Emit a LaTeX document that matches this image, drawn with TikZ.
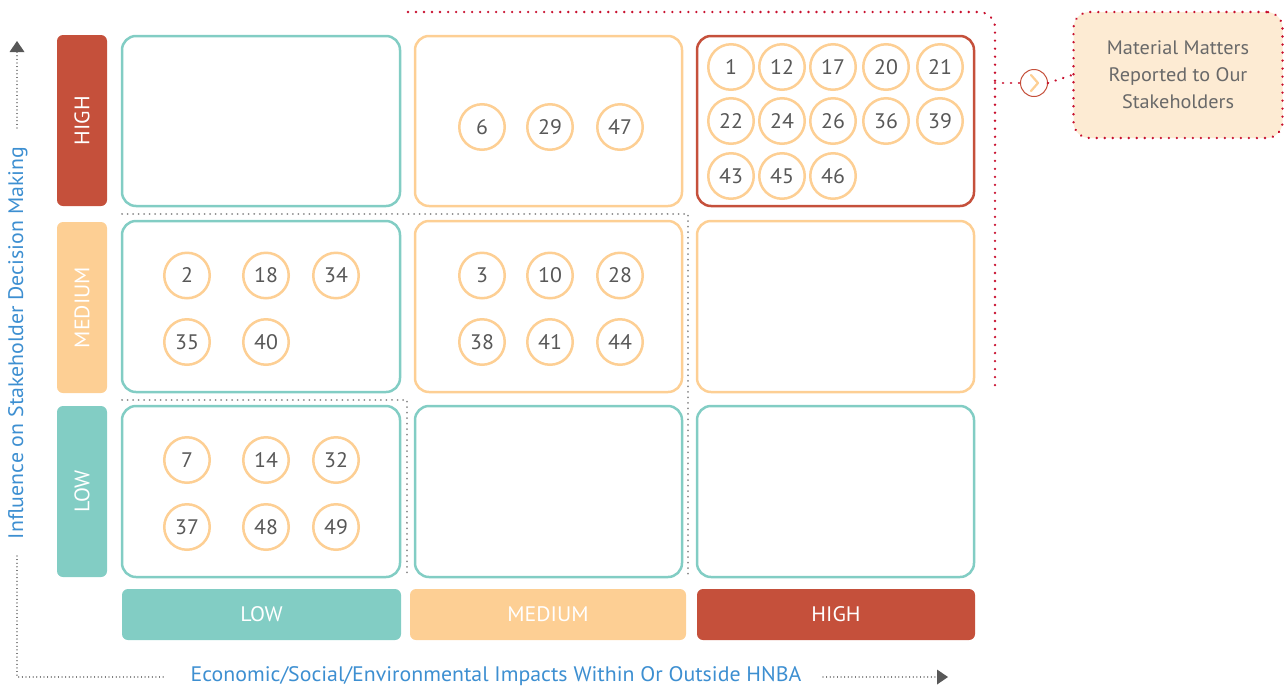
\documentclass[tikz,border=0pt]{standalone}
\usepackage{fontspec}
\setmainfont[FakeStretch=1.04]{PT Sans}
\usetikzlibrary{arrows.meta,calc}
\definecolor{tealC}{HTML}{82CDC4}
\definecolor{orangeC}{HTML}{FDCF94}
\definecolor{redC}{HTML}{C5503B}
\definecolor{numgray}{HTML}{585858}
\definecolor{blueT}{HTML}{3D8FD1}
\definecolor{sepgray}{HTML}{8A8A8A}
\definecolor{dotred}{HTML}{C8102E}
\definecolor{mmfill}{HTML}{FDEBD3}
\begin{document}
\begin{tikzpicture}[x=1pt,y=-1pt,
  cell/.style={draw, line width=2.5pt, rounded corners=14pt, inner sep=0pt},
  mm/.style={circle, draw=orangeC, line width=2.5pt, minimum size=45.5pt, inner sep=0pt, fill=white,
    font=\fontsize{21}{21}\selectfont, text=numgray},
  lbl/.style={rounded corners=6pt, inner sep=0pt, text=white, font=\fontsize{21}{21}\selectfont},
  vlbl/.style={rotate=90, text=white, font=\fontsize{21}{21}\selectfont, inner sep=0pt},
  axislbl/.style={text=blueT, font=\fontsize{21}{21}\selectfont, inner sep=0pt},
  axisline/.style={sepgray!70!black, line width=1.2pt, dash pattern=on 0.01pt off 3.6pt, line cap=round},
  sepline/.style={sepgray, line width=2pt, dash pattern=on 0.01pt off 5.5pt, line cap=round},
  reddot/.style={dotred, line width=2.6pt, dash pattern=on 0.01pt off 8pt, line cap=round},
  tip/.style={-{Triangle[length=11pt,width=15pt,line width=0pt,color=numgray]}}
]
\useasboundingbox (0,0) rectangle (1284,686);

% grid cells
\node[cell, draw=tealC, minimum width=278pt, minimum height=170pt] (c11) at (261,121) {};
\node[cell, draw=orangeC, minimum width=267pt, minimum height=170pt] (c12) at (548.5,121) {};
\node[cell, draw=redC, minimum width=277pt, minimum height=170pt] (c13) at (835.5,121) {};
\node[cell, draw=tealC, minimum width=278pt, minimum height=171pt] (c21) at (261,306.5) {};
\node[cell, draw=orangeC, minimum width=267pt, minimum height=171pt] (c22) at (548.5,306.5) {};
\node[cell, draw=orangeC, minimum width=277pt, minimum height=171pt] (c23) at (835.5,306.5) {};
\node[cell, draw=tealC, minimum width=278pt, minimum height=171pt] (c31) at (261,491.5) {};
\node[cell, draw=tealC, minimum width=267pt, minimum height=171pt] (c32) at (548.5,491.5) {};
\node[cell, draw=tealC, minimum width=277pt, minimum height=171pt] (c33) at (835.5,491.5) {};

% separators
\draw[sepline] (122,214) -- (688,214) -- (688,577);
\draw[sepline] (122,400) -- (407,400) -- (407,577);

% left labels
\node[lbl, fill=redC, minimum width=50pt, minimum height=171pt] (lh) at (82,120.5) {};
\node[vlbl] at (lh.center) {HIGH};
\node[lbl, fill=orangeC, minimum width=50pt, minimum height=171pt] (lm) at (82,307.5) {};
\node[vlbl] at (lm.center) {MEDIUM};
\node[lbl, fill=tealC, minimum width=50pt, minimum height=171pt] (ll) at (82,491.5) {};
\node[vlbl] at (ll.center) {LOW};

% bottom labels
\node[lbl, fill=tealC, minimum width=279pt, minimum height=51pt] (bl) at (261.5,614.5) {LOW};
\node[lbl, fill=orangeC, minimum width=276pt, minimum height=51pt] (bm) at (548,614.5) {MEDIUM};
\node[lbl, fill=redC, minimum width=278pt, minimum height=51pt] (bh) at (836,614.5) {HIGH};

% material matters circles
\foreach \n/\x/\y in {6/482/127, 29/550/127, 47/620/127,
  1/731/67, 12/782/67, 17/833/67, 20/886/67, 21/940/67,
  22/731/121, 24/782/121, 26/833/121, 36/886/121, 39/940/121,
  43/731/176, 45/782/176, 46/833/176,
  2/187/275.5, 18/266/275.5, 34/336/275.5, 35/187/342, 40/266/342,
  3/482/275.5, 10/550/275.5, 28/620/275.5, 38/482/342, 41/550/342, 44/620/342,
  7/187/460, 14/266/460, 32/336/460, 37/187/527, 48/266/527, 49/336/527}
  \node[mm] (m\n) at (\x,\y) {\n};

% axes
\coordinate (ytip) at (17,41);
\coordinate (ytop) at (17,128);
\node[axislbl, rotate=90] (ylab) at (18,343) {Influence on Stakeholder Decision Making};
\coordinate (ybot) at (17,556);
\coordinate (corner) at (17,677);
\coordinate (xstart) at (166,677);
\node[axislbl] (xlab) at (496,676) {Economic/Social/Environmental Impacts Within Or Outside HNBA};
\coordinate (xmid) at (823,677);
\coordinate (xtip) at (948,677);
\draw[axisline, tip] (ytop) -- (ytip);
\draw[axisline] (ybot) -- (corner) -- (xstart);
\draw[axisline, tip] (xmid) -- (xtip);

% red highlight path
\coordinate (r0) at (408,12);
\coordinate (r1) at (995,12);
\coordinate (r2) at (995,390);
\coordinate (rb) at (995,83);
\draw[reddot, rounded corners=16pt] (r0) -- (r1) -- (r2);
\node[circle, draw=redC, line width=1pt, minimum size=27pt, inner sep=0pt, fill=white] (chev) at (1034,83) {};
\draw[orangeC, line width=2.2pt, line cap=round, line join=round] ($(chev.center)+(-3,-8)$) -- ++(7,8) -- ++(-7,8);
\node[draw=dotred, line width=2.6pt, dash pattern=on 0.01pt off 8pt, line cap=round, fill=mmfill,
  rounded corners=16pt, minimum width=209pt, minimum height=126pt, inner sep=0pt,
  align=center, text=numgray!90, font=\fontsize{19.5}{27}\selectfont] (mmbox) at (1178,75)
  {Material Matters\\Reported to Our\\Stakeholders};
\draw[reddot] (rb) -- (chev.west);
\draw[reddot] (chev.east) -- (mmbox.west);
\end{tikzpicture}
\end{document}
